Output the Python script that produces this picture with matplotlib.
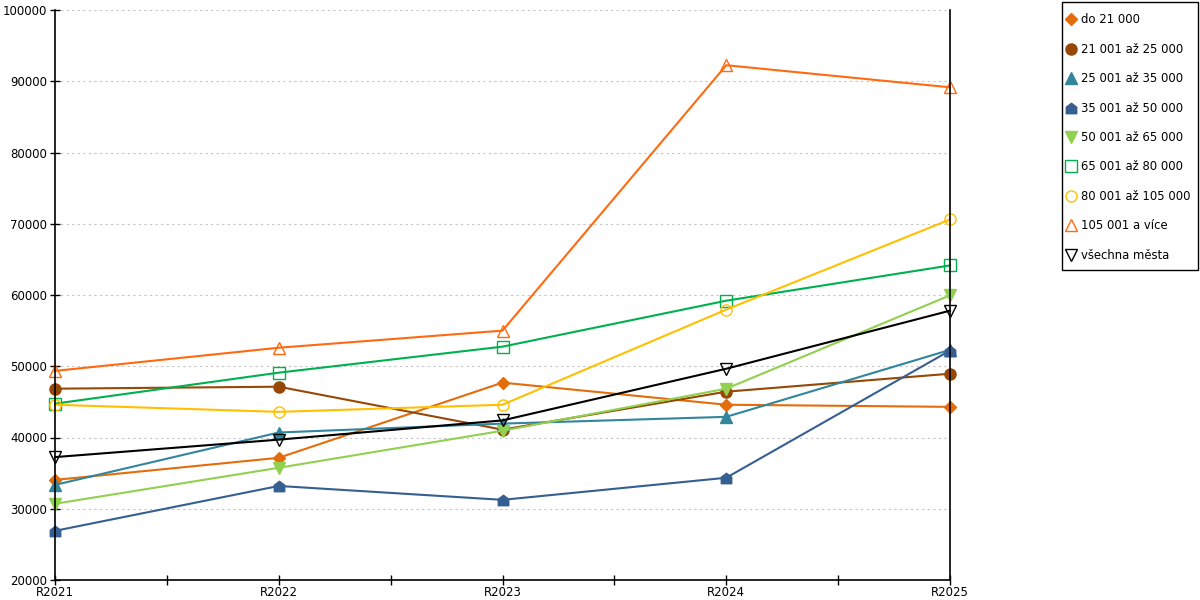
import matplotlib
matplotlib.use("Agg")
import matplotlib.pyplot as plt
from matplotlib.ticker import FixedLocator
from matplotlib.lines import Line2D
from matplotlib.path import Path
from matplotlib.patches import Rectangle

categories = ["R2021", "R2022", "R2023", "R2024", "R2025"]

series_names = [
    "do 21 000",
    "21 001 až 25 000",
    "25 001 až 35 000",
    "35 001 až 50 000",
    "50 001 až 65 000",
    "65 001 až 80 000",
    "80 001 až 105 000",
    "105 001 a více",
    "všechna města",
]

do_21000 = [34050, 37150, 47700, 44600, 44300]
s21_25 = [46850, 47130, 41100, 46430, 48950]
s25_35 = [33350, 40700, 41950, 42900, 52300]
s35_50 = [26900, 33200, 31250, 34350, 52200]
s50_65 = [30700, 35750, 40950, 46850, 59950]
s65_80 = [44750, 49100, 52750, 59200, 64150]
s80_105 = [44600, 43600, 44600, 57950, 70600]
s105_plus = [49350, 52600, 55000, 92250, 89150]
vsechna = [37250, 39700, 42400, 49650, 57800]

series_values = [do_21000, s21_25, s25_35, s35_50, s50_65, s65_80, s80_105, s105_plus, vsechna]

house = Path([(-1, -1), (1, -1), (1, 0.25), (0, 1), (-1, 0.25), (-1, -1)],
             [Path.MOVETO, Path.LINETO, Path.LINETO, Path.LINETO, Path.LINETO, Path.CLOSEPOLY])

colors = ["#E46C0A", "#974706", "#31859C", "#365F91", "#92D050",
          "#00B050", "#FFC000", "#FF6A10", "#000000"]
markers = ["D", "o", "^", house, "v", "s", "o", "^", "v"]
filled = [True, True, True, True, True, False, False, False, False]
msizes = [6, 8, 8.5, 7.5, 8.5, 8, 8, 8.5, 8.5]

plt.rcParams['font.family'] = ['DejaVu Sans']
fig = plt.figure(figsize=(12, 6), dpi=100)
ax = fig.add_axes([55/1200, 20/600, 895/1200, 570/600])

x = list(range(len(categories)))
for name, vals, c, m, f, ms in zip(series_names, series_values, colors, markers, filled, msizes):
    ax.plot(x, vals, color=c, linewidth=1.5, marker=m, markersize=ms,
            markerfacecolor=(c if f else "none"),
            markeredgecolor=c, markeredgewidth=1.0, label=name, zorder=3, clip_on=False)

ax.set_xlim(0, len(categories) - 1)
ax.set_ylim(20000, 100000)
ax.set_yticks(range(20000, 100001, 10000))
ax.set_yticklabels([str(v) for v in range(20000, 100001, 10000)], fontsize=8.5)
ax.set_xticks(x)
ax.set_xticklabels(categories, fontsize=8.5)
ax.xaxis.set_minor_locator(FixedLocator([i + 0.5 for i in range(len(categories) - 1)]))
ax.tick_params(axis='both', which='both', direction='inout', length=7, width=1, color='black', pad=2)
ax.tick_params(axis='x', which='major', pad=1)

ax.grid(axis='y', color='#C4C4C4', linestyle=(0, (2, 3)), linewidth=0.8, zorder=0)
ax.set_axisbelow(True)

ax.spines['top'].set_visible(False)
for side in ['left', 'bottom', 'right']:
    ax.spines[side].set_color('black')
    ax.spines[side].set_linewidth(1.2)
    ax.spines[side].set_zorder(5)

leg_handles = []
for c, m, f, ms in zip(colors, markers, filled, msizes):
    leg_handles.append(Line2D([], [], linestyle='none', marker=m, markersize=ms if m != 'D' else 6.5,
                              markerfacecolor=c if f else 'none', markeredgecolor=c, markeredgewidth=1.0))
leg = fig.legend(leg_handles, series_names, loc='upper left', bbox_to_anchor=(1062/1200, 1 - 8/600),
                 fontsize=8.4, frameon=False,
                 handlelength=0.7, handletextpad=0.5, labelspacing=1.41, borderpad=0.45,
                 borderaxespad=0)
fig.add_artist(Rectangle((1062/1200, 1 - 270/600), 136/1200, 268/600, transform=fig.transFigure,
                         facecolor='none', edgecolor='black', linewidth=1.0))

fig.savefig("out.png", dpi=100)
